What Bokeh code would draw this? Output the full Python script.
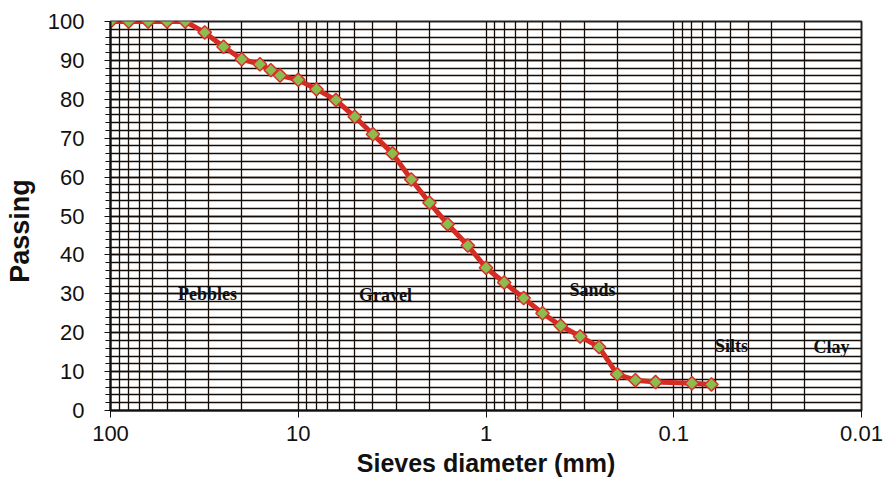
from bokeh.plotting import figure
from bokeh.models import Range1d, FixedTicker, SingleIntervalTicker, CustomJSTickFormatter, ColumnDataSource
from bokeh.embed import file_html
from bokeh.resources import INLINE
from bokeh.core.properties import value
import numpy as np

# Data
sieves = [100, 80, 63, 50, 40, 31.5, 25, 20, 16, 14, 12.5, 10, 8, 6.3, 5, 4, 3.15,
          2.5, 2, 1.6, 1.25, 1, 0.8, 0.63, 0.5, 0.4, 0.315, 0.25, 0.2, 0.16, 0.125, 0.08, 0.063]
passing = [100, 100, 100, 100, 100, 97.2, 93.5, 90.3, 89, 87.5, 86.1, 85, 82.6, 79.8, 75.5, 71,
           66.1, 59.4, 53.4, 47.9, 42.4, 36.7, 32.9, 28.9, 25, 21.8, 19.05, 16.3, 9.3, 7.8, 7.3, 7.0, 6.7]

x_ticks = [100, 10, 1, 0.1, 0.01]
x_tick_labels = ["100", "10", "1", "0.1", "0.01"]

zone_names = ["Pebbles", "Gravel", "Sands", "Silts", "Clay"]
zone_x = [30.4, 3.43, 0.271, 0.0492, 0.01445]
zone_y = [29.9, 29.6, 31.1, 16.5, 16.2]

GRID = "#140c06"

p = figure(width=888, height=483, x_axis_type="log",
           x_range=Range1d(100, 0.01), y_range=Range1d(0, 100),
           output_backend="svg", toolbar_location=None,
           min_border_left=110, min_border_right=27, min_border_top=21, min_border_bottom=73)
p.background_fill_color = "white"
p.border_fill_color = "white"
p.outline_line_color = "#222222"
p.outline_line_width = 2

minor = [d * k for d in [10, 1, 0.1, 0.01] for k in range(2, 10)]
p.xaxis.ticker = FixedTicker(ticks=x_ticks, minor_ticks=minor)
p.xaxis.formatter = CustomJSTickFormatter(
    args=dict(tvals=x_ticks, tlabels=x_tick_labels),
    code="""
    for (let i = 0; i < tvals.length; i++) {
        if (Math.abs(Math.log10(tick) - Math.log10(tvals[i])) < 1e-6) return tlabels[i];
    }
    return "";
    """)
p.yaxis.ticker = SingleIntervalTicker(interval=10, num_minor_ticks=5)

for ax in [p.xaxis[0], p.yaxis[0]]:
    ax.axis_line_color = "#111111"
    ax.axis_line_width = 2
    ax.major_tick_line_color = "#111111"
    ax.minor_tick_line_color = "#111111"
    ax.major_label_text_font = "Liberation Sans"
    ax.major_label_text_font_size = "22px"
    ax.major_label_text_color = "#111111"
    ax.axis_label_text_font = "Liberation Sans"
    ax.axis_label_text_font_style = "bold"
    ax.axis_label_text_font_size = "25px"
    ax.axis_label_text_color = "#111111"

p.xaxis.major_tick_out = 7
p.xaxis.major_tick_in = 0
p.xaxis.minor_tick_out = 0
p.xaxis.minor_tick_in = 0
p.xaxis.major_label_standoff = 8
p.xaxis.axis_label = "Sieves diameter (mm)"
p.xaxis.axis_label_standoff = 5

p.yaxis.major_tick_out = 6
p.yaxis.major_tick_in = 0
p.yaxis.minor_tick_out = 5
p.yaxis.minor_tick_in = 0
p.yaxis.major_label_standoff = 20
p.yaxis.axis_label = "Passing" + "\u00a0" * 4
p.yaxis.axis_label_text_font_size = "27px"
p.yaxis.axis_label_standoff = 10

for g in [p.xgrid[0], p.ygrid[0]]:
    g.grid_line_color = GRID
    g.grid_line_width = 1.3
    g.minor_grid_line_color = GRID
    g.minor_grid_line_width = 1.3

src = ColumnDataSource(dict(x=sieves, y=passing))
p.line("x", "y", source=src, line_color="#d42b22", line_width=5)
p.scatter("x", "y", source=src, marker="square", angle=np.pi / 4, size=9.5,
          fill_color="#8cbb4f", line_color="#d9302a", line_width=1.5)

lab = ColumnDataSource(dict(x=zone_x, y=zone_y, t=zone_names))
p.text("x", "y", text="t", source=lab, text_font=value("Liberation Serif"),
       text_font_style="bold", text_font_size="18px", text_color="#111111",
       text_align="center", text_baseline="middle")

open("out.html", "w").write(file_html(p, INLINE))
